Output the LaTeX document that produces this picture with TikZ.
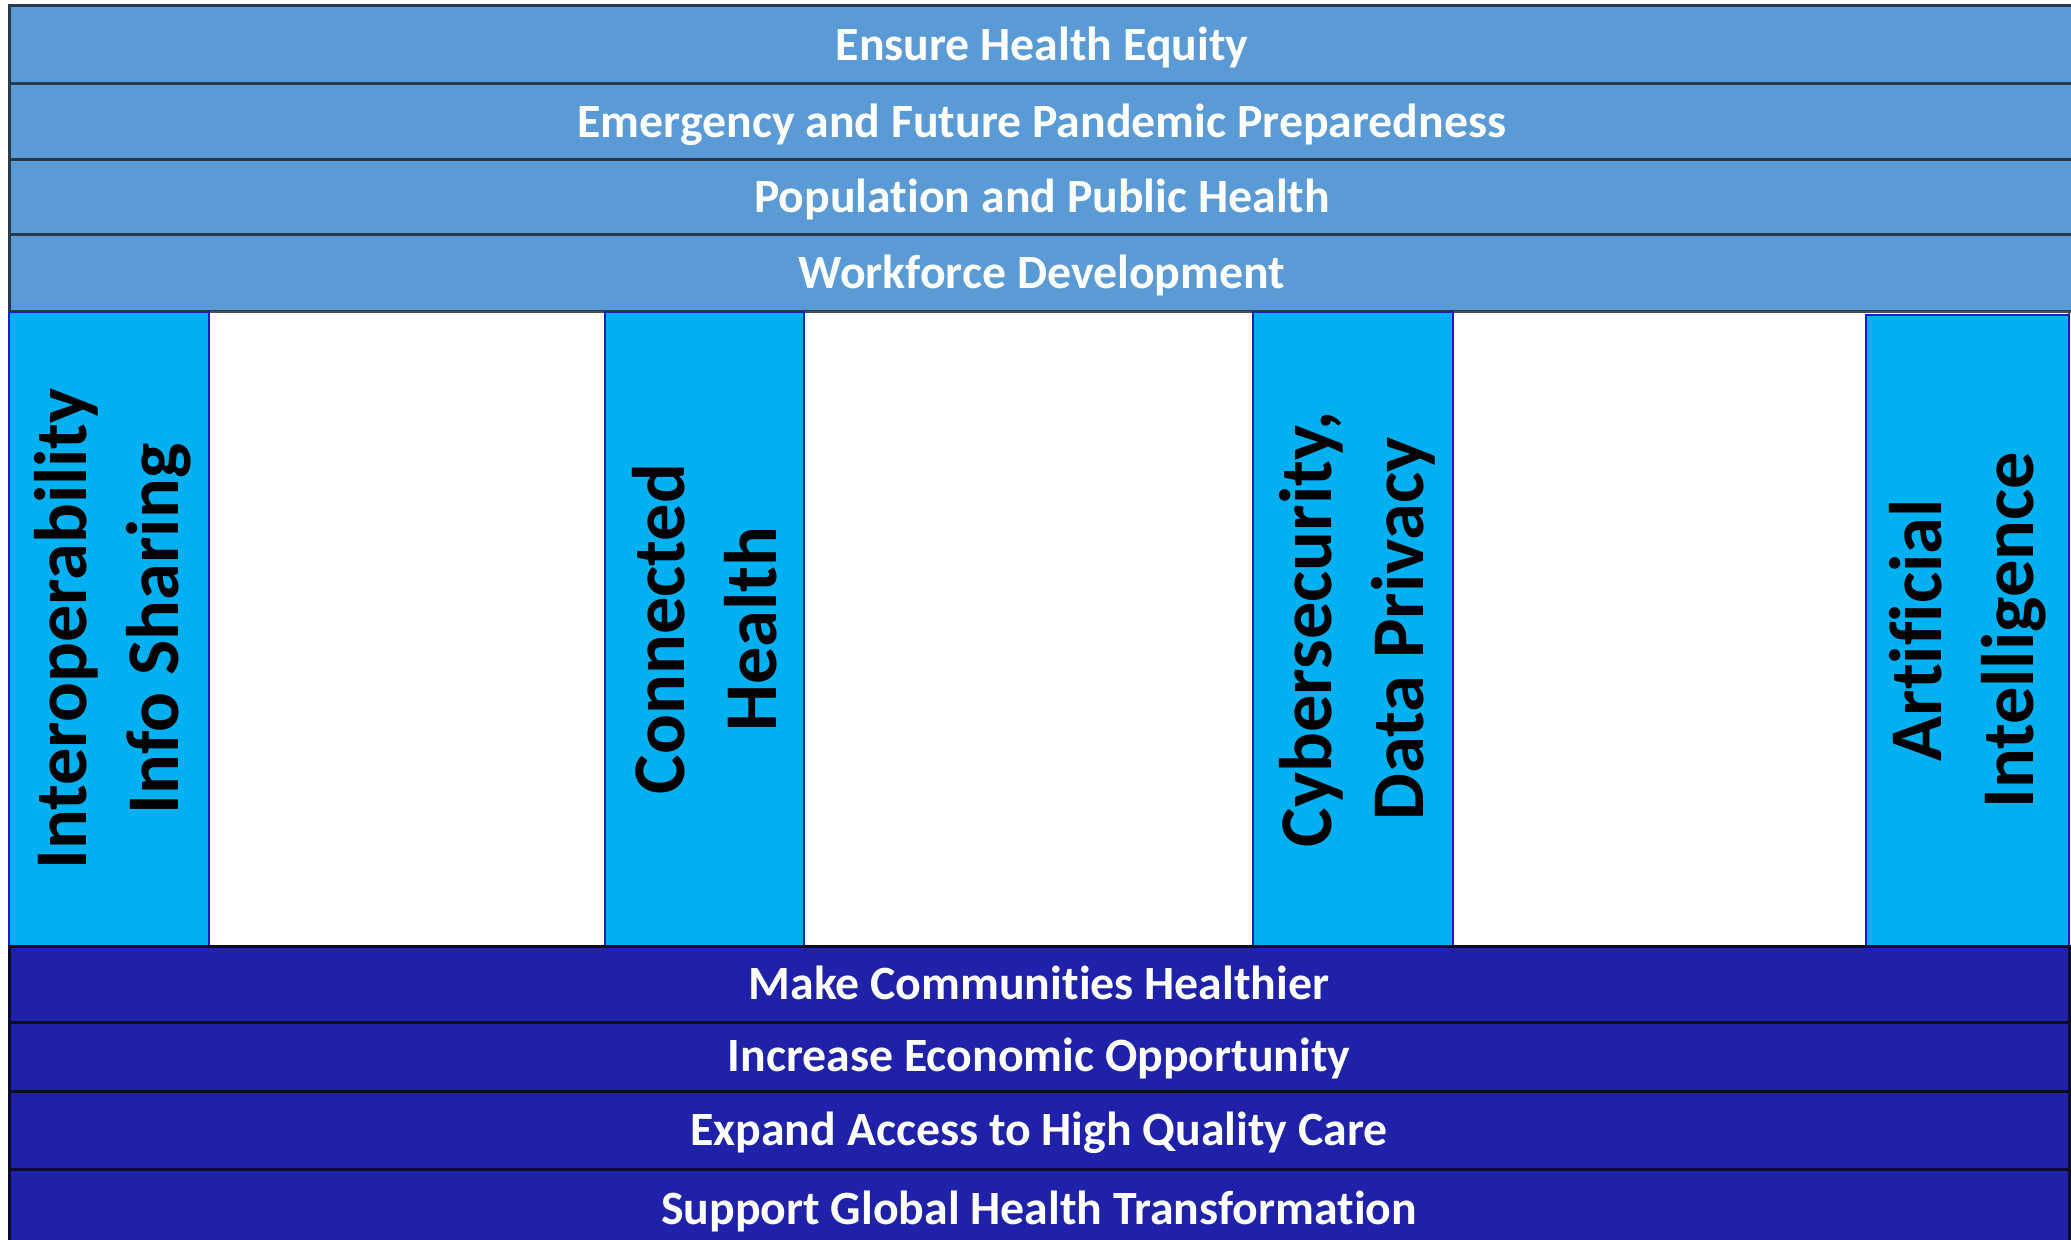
\documentclass[tikz,border=0pt]{standalone}
\usepackage{fontspec}
\setmainfont{Carlito}[Ligatures=NoCommon]
\definecolor{topblue}{HTML}{5B9BD5}
\definecolor{pillarblue}{HTML}{00B0F0}
\definecolor{deepblue}{RGB}{31,34,169}
\definecolor{bandline}{HTML}{2B3A4A}
\definecolor{lowline}{RGB}{12,12,40}
\definecolor{pillarline}{RGB}{30,30,190}
\begin{document}
\begin{tikzpicture}[x=0.5pt,y=-0.5pt,
  band/.style={rectangle, anchor=north west, inner sep=0pt, outer sep=0pt,
    line width=1.5pt, text=white, text height=15.4pt, text depth=0pt,
    font=\bfseries\fontsize{23.9}{28}\selectfont},
  topband/.style={band, fill=topblue, draw=bandline, minimum width=1033pt},
  lowband/.style={band, fill=deepblue, draw=lowline, minimum width=1030pt},
  pillar/.style={rectangle, anchor=north west, inner sep=0pt, outer sep=0pt,
    fill=pillarblue, draw=pillarline, line width=1pt, minimum height=317pt},
  pillartext/.style={rotate=90, align=center, text=black, inner sep=0pt,
    font=\bfseries\fontsize{37.2}{46}\selectfont}]
\useasboundingbox (0,0) rectangle (2071,1240);
\fill[white] (0,0) rectangle (2071,1240);

% top bands
\node[topband, minimum height=39pt]   (t1) at (9,6)   {Ensure Health Equity};
\node[topband, minimum height=38pt]   (t2) at (9,84)  {Emergency and Future Pandemic Preparedness};
\node[topband, minimum height=37.5pt] (t3) at (9,160) {Population and Public Health};
\node[topband, minimum height=38.5pt] (t4) at (9,235) {Workforce Development};

% middle area
\node[rectangle, anchor=north west, inner sep=0pt, outer sep=0pt, fill=white,
  draw=black!70, line width=1pt, minimum width=1030pt, minimum height=317pt] (mid) at (9,312) {};

% pillars
\node[pillar, minimum width=100pt]   (p1) at (9,312)    {};
\node[pillar, minimum width=99.5pt]  (p2) at (605,312)  {};
\node[pillar, minimum width=100pt]   (p3) at (1253,312) {};
\node[pillar, minimum width=101.5pt, minimum height=315.5pt] (p4) at (1866,315) {};

\node[pillartext] (p1t) at ([xshift=2pt]p1.center) {Interoperability\\Info Sharing};
\node[pillartext] (p2t) at (p2.center) {Connected\\Health};
\node[pillartext] (p3t) at ([xshift=2pt]p3.center) {Cybersecurity,\\Data Privacy};
\node[pillartext] (p4t) at (p4.center) {Artificial\\Intelligence};

% bottom bands
\node[lowband, minimum height=38pt]   (b1) at (9,946)  {Make Communities Healthier};
\node[lowband, minimum height=34.5pt] (b2) at (9,1022) {Increase Economic Opportunity};
\node[lowband, minimum height=39pt]   (b3) at (9,1091) {Expand Access to High Quality Care};
\node[lowband, minimum height=40pt]   (b4) at (9,1169) {Support Global Health Transformation};
\end{tikzpicture}
\end{document}
